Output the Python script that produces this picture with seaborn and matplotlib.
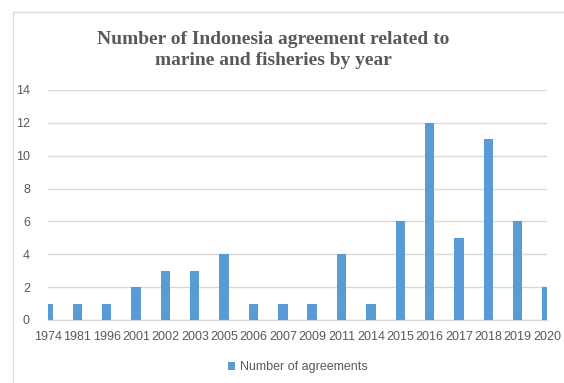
import matplotlib
matplotlib.use("Agg")
import matplotlib.pyplot as plt
import seaborn as sns
import pandas as pd
from matplotlib.lines import Line2D

years = ["1974", "1981", "1996", "2001", "2002", "2003", "2005", "2006", "2007",
         "2009", "2011", "2014", "2015", "2016", "2017", "2018", "2019", "2020"]
counts = [1, 1, 1, 2, 3, 3, 4, 1, 1, 1, 4, 1, 6, 12, 5, 11, 6, 2]
yticks = [0, 2, 4, 6, 8, 10, 12, 14]
title = "Number of Indonesia agreement related to\nmarine and fisheries by year"
series_name = "Number of agreements"

df = pd.DataFrame({"year": years, "count": counts})

sns.set_style("white")
plt.rcParams["font.family"] = ["Liberation Sans", "DejaVu Sans"]

W, H = 564, 383
fig = plt.figure(figsize=(W / 100, H / 100), dpi=100)
ax = fig.add_axes([48 / W, 1 - 320 / H, (547 - 48) / W, (320 - 90) / H])

sns.barplot(data=df, x="year", y="count", color="#5B9BD5", saturation=1,
            width=0.32, label=series_name, ax=ax, zorder=3,
            linewidth=0, edgecolor="none")

ax.set_xlim(0, len(years) - 1)
ax.set_ylim(0, 14)
ax.set_yticks(yticks)
ax.yaxis.grid(True, color="#D9D9D9", linewidth=1, zorder=0)
ax.set_axisbelow(True)
for s in ["top", "right", "left"]:
    ax.spines[s].set_visible(False)
ax.spines["bottom"].set_color("#D9D9D9")
ax.spines["bottom"].set_linewidth(1)
ax.tick_params(axis="both", length=0, colors="#595959", labelsize=9)
ax.tick_params(axis="x", pad=8)
ax.tick_params(axis="y", pad=13)
ax.set_xlabel("")
ax.set_ylabel("")

ax.legend(loc="center", bbox_to_anchor=(298 / W, 1 - 367 / H),
          bbox_transform=fig.transFigure, frameon=False, fontsize=9,
          handlelength=0.6, handleheight=0.6, handletextpad=0.4,
          labelcolor="#595959")

fig.text(273 / W, 1 - 50 / H, title, ha="center", va="center",
         fontsize=14, fontweight="bold", color="#595959",
         family=["Liberation Serif", "DejaVu Serif"], linespacing=1.3)

# chart border (partially visible)
fig.add_artist(Line2D([13 / W, 13 / W], [0, 1 - 12 / H], transform=fig.transFigure,
                      color="#D9D9D9", linewidth=1))
fig.add_artist(Line2D([13 / W, 1], [1 - 12 / H, 1 - 12 / H], transform=fig.transFigure,
                      color="#D9D9D9", linewidth=1))

fig.savefig("out.png", dpi=100)
